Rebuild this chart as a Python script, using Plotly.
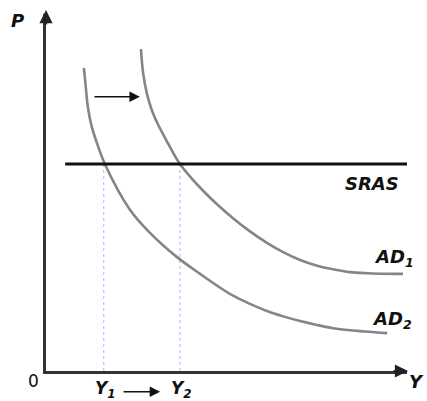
import plotly.graph_objects as go

# ---- data (chart units: Y output on x, P price level on y) ----
ad2_x = [1.05, 1.11, 1.16, 1.27, 1.41, 1.63, 2.33, 2.88, 3.63, 4.27, 4.74, 5.18, 5.65,
         6.12, 6.57, 7.04, 7.51, 7.95, 8.42, 9.45]
ad2_y = [8.49, 7.87, 7.39, 6.83, 6.39, 5.80, 4.51, 3.87, 3.19, 2.72, 2.39, 2.11, 1.88,
         1.68, 1.53, 1.40, 1.29, 1.20, 1.14, 1.06]
ad1_x = [2.63, 2.69, 2.79, 2.93, 3.11, 3.33, 3.59, 3.71, 4.04, 4.40, 4.76, 5.18, 5.65,
         6.12, 6.57, 7.04, 7.51, 7.95, 8.42, 8.89, 9.89]
ad1_y = [9.02, 8.35, 7.79, 7.31, 6.89, 6.47, 5.99, 5.80, 5.39, 5.00, 4.65, 4.28, 3.91,
         3.59, 3.33, 3.11, 2.95, 2.85, 2.77, 2.74, 2.72]
sras_x = [0.53, 10.03]
sras_y = [5.80, 5.80]
y1_value = 1.60
y2_value = 3.71
p_level = 5.80
shift_arrow_x = [1.30, 2.60]
shift_arrow_y = 7.68

FONT = "DejaVu Sans"
curve_color = "#858585"

fig = go.Figure()

# dotted drop lines
for xv in (y1_value, y2_value):
    fig.add_trace(go.Scatter(x=[xv, xv], y=[0, p_level], mode="lines",
                             line=dict(color="#a9b4ff", width=1, dash="dot"),
                             hoverinfo="skip", showlegend=False, cliponaxis=False))

fig.add_trace(go.Scatter(x=ad2_x, y=ad2_y, mode="lines",
                         line=dict(color=curve_color, width=2.6, shape="spline", smoothing=1),
                         showlegend=False, cliponaxis=False))
fig.add_trace(go.Scatter(x=ad1_x, y=ad1_y, mode="lines",
                         line=dict(color=curve_color, width=2.6, shape="spline", smoothing=1),
                         showlegend=False, cliponaxis=False))
fig.add_trace(go.Scatter(x=sras_x, y=sras_y, mode="lines",
                         line=dict(color="#111111", width=3),
                         showlegend=False, cliponaxis=False))

ann = []
# axis arrowheads (paper refs, pixel tails)
ann.append(dict(x=0, y=1.011, xref="paper", yref="paper", ax=0, ay=16,
                showarrow=True, arrowhead=2, arrowsize=1.2, arrowwidth=2.2, arrowcolor="#222",
                text=""))
ann.append(dict(x=1.003, y=0, xref="paper", yref="paper", ax=-16, ay=0,
                showarrow=True, arrowhead=2, arrowsize=1.2, arrowwidth=2.2, arrowcolor="#222",
                text=""))
# shift arrow
ann.append(dict(x=shift_arrow_x[1], y=shift_arrow_y, ax=shift_arrow_x[0], ay=shift_arrow_y,
                xref="x", yref="y", axref="x", ayref="y", showarrow=True, arrowhead=2,
                arrowsize=1.3, arrowwidth=1.6, arrowcolor="#111", text=""))
# Y1 -> Y2 arrow
ann.append(dict(x=0.316, y=-0.058, xref="paper", yref="paper", ax=-38, ay=0,
                showarrow=True, arrowhead=2, arrowsize=1.3, arrowwidth=1.6, arrowcolor="#111",
                text=""))

def label(txt, x, y, size=18):
    return dict(x=x, y=y, xref="paper", yref="paper", text=txt, showarrow=False,
                xanchor="center", yanchor="middle",
                font=dict(family=FONT, size=size, color="#111"))

ann.append(label("<b><i>P</i></b>", -0.080, 0.983))
ann.append(label("0", -0.036, -0.028, 17))
ann.append(label("<b><i>Y</i></b>", 1.025, -0.030))
ann.append(label("<b><i>Y<sub>1</sub></i></b>", 0.166, -0.052, 17))
ann.append(label("<b><i>Y<sub>2</sub></i></b>", 0.374, -0.052, 17))
ann.append(label("<b><i>SRAS</i></b>", 0.903, 0.524))
ann.append(label("<b><i>AD<sub>1</sub></i></b>", 0.964, 0.317))
ann.append(label("<b><i>AD<sub>2</sub></i></b>", 0.958, 0.143))

fig.update_layout(
    width=427, height=401,
    margin=dict(l=46, r=20, t=14, b=30),
    paper_bgcolor="white", plot_bgcolor="white",
    annotations=ann,
    xaxis=dict(range=[0, 10], showgrid=False, zeroline=False, showticklabels=False,
               ticks="", showline=True, linecolor="#333", linewidth=2.5, fixedrange=True),
    yaxis=dict(range=[0, 10], showgrid=False, zeroline=False, showticklabels=False,
               ticks="", showline=True, linecolor="#333", linewidth=2.5, fixedrange=True),
)

fig.write_html("out.html", config={"displayModeBar": False},
               post_script="document.body.style.margin='0';document.body.style.overflow='hidden';")
